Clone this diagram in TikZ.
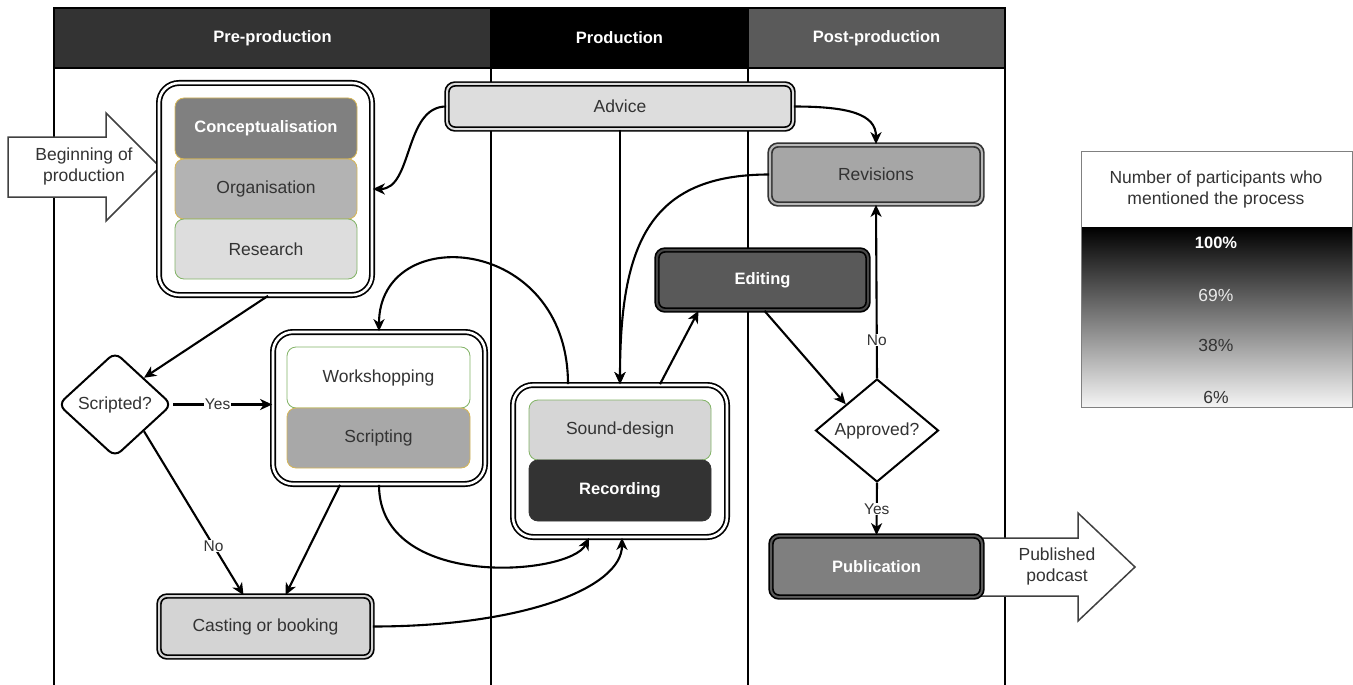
\documentclass[tikz,border=0pt]{standalone}
\usepackage{fontspec}
\setmainfont{Liberation Sans}
\usetikzlibrary{shapes.geometric,arrows.meta,calc}
\definecolor{txt}{HTML}{333333}
\definecolor{hdrpre}{HTML}{333333}
\definecolor{hdrprod}{HTML}{000000}
\definecolor{hdrpost}{HTML}{5A5A5A}
\definecolor{cgold}{HTML}{D6B656}
\definecolor{cgreen}{HTML}{82B366}
\definecolor{fconc}{HTML}{808080}
\definecolor{forg}{HTML}{B3B3B3}
\definecolor{fres}{HTML}{DDDDDD}
\definecolor{fscr}{HTML}{A8A8A8}
\definecolor{fsnd}{HTML}{D6D6D6}
\definecolor{frec}{HTML}{333333}
\definecolor{fadv}{HTML}{DDDDDD}
\definecolor{frev}{HTML}{A6A6A6}
\definecolor{fedit}{HTML}{595959}
\definecolor{fpub}{HTML}{7F7F7F}
\definecolor{fcast}{HTML}{D4D4D4}
\newcommand{\nfont}{\fontsize{17.5}{21}\selectfont}
\newcommand{\bfnt}{\fontsize{16.5}{20}\selectfont\bfseries}
\newcommand{\lfont}{\fontsize{15.5}{18}\selectfont}
\tikzset{
  lane/.style={draw=black, line width=2pt},
  hdr/.style={text=white, font=\bfnt, inner sep=0pt, minimum height=60pt},
  grp/.style={draw=black, line width=1.7pt, double=white, double distance=2.6pt, rounded corners=20pt, inner sep=0pt},
  cell/.style={draw, rounded corners=9pt, line width=0.8pt, inner sep=0pt, minimum width=182pt, minimum height=60pt, font=\nfont, text=txt},
  proc/.style={draw=black, line width=1.7pt, double distance=2pt, rounded corners=8pt, inner sep=0pt, font=\nfont, text=txt},
  dec/.style={draw=black, line width=2pt, shape=diamond, inner sep=0pt, font=\nfont, text=txt, fill=white},
  arr/.style={line width=2.1pt, -{Stealth[length=12pt,width=11pt,inset=3.5pt]}},
  lbl/.style={font=\lfont, text=txt, fill=white, inner sep=1pt},
  blk/.style={draw=black!75, line width=1.5pt, fill=white, line join=miter},
}
\begin{document}
\begin{tikzpicture}[x=1pt,y=-1pt]
\useasboundingbox (0,0) rectangle (1353,685);
% headers
\node[hdr, fill=hdrpre, minimum width=437pt] (hpre) at (272.5,38) {Pre-production};
\node[hdr, fill=hdrprod, minimum width=257pt] (hprod) at (619.5,38) {Production};
\node[hdr, fill=hdrpost, minimum width=257pt] (hpost) at (876.5,38) {Post-production};
% pool frame and lanes
\draw[lane] (54,686) -- (54,8) -- (1005,8) -- (1005,686);
\draw[lane] (54,68) -- (1005,68);
\draw[lane] (491,8) -- (491,686);
\draw[lane] (748,8) -- (748,686);
% block arrows
\draw[blk] (8,137) -- (106,137) -- (106,113) -- (160,167) -- (106,221) -- (106,197) -- (8,197) -- cycle;
\node[font=\nfont, text=txt, align=center, inner sep=0pt] (begin) at (84,166) {Beginning of\\production};
\draw[blk] (960,538) -- (1078,538) -- (1078,513) -- (1135,567) -- (1078,621) -- (1078,596) -- (960,596) -- cycle;
\node[font=\nfont, text=txt, align=center, inner sep=0pt] (podcast) at (1057,566) {Published\\podcast};
% groups
\node[grp, minimum width=213pt, minimum height=212pt] (g1) at (265.5,189) {};
\node[cell, draw=cgold, fill=fconc, text=white, font=\bfnt, minimum height=61pt] (conc) at (266,128.5) {Conceptualisation};
\node[cell, draw=cgold, fill=forg] (org) at (266,189) {Organisation};
\node[cell, draw=cgreen, fill=fres] (res) at (266,249) {Research};
\node[grp, minimum width=212pt, minimum height=152pt] (gws) at (379,408) {};
\node[cell, draw=cgreen, fill=white, minimum width=183pt, minimum height=61pt] (wsh) at (378.5,377.5) {Workshopping};
\node[cell, draw=cgold, fill=fscr, minimum width=183pt] (scr) at (378.5,438) {Scripting};
\node[grp, minimum width=214pt, minimum height=152pt] (gsd) at (620,461) {};
\node[cell, draw=cgreen, fill=fsnd] (snd) at (620,430) {Sound-design};
\node[cell, draw=frec, fill=frec, text=white, font=\bfnt, minimum height=61pt] (rec) at (620,490.5) {Recording};
% processes
\node[proc, fill=fadv, double=fadv, minimum width=346pt, minimum height=45pt] (advice) at (620,106.5) {Advice};
\node[proc, draw=black!80, fill=frev, double=frev!80!white, minimum width=212pt, minimum height=59pt] (rev) at (876,174.5) {Revisions};
\node[proc, fill=fedit, double=fedit!80!black, text=white, font=\bfnt, minimum width=211pt, minimum height=60pt] (edit) at (762.5,280) {Editing};
\node[proc, fill=fpub, double=fpub!70!black, text=white, font=\bfnt, minimum width=211pt, minimum height=61pt] (pub) at (876.5,566.5) {Publication};
\node[proc, fill=fcast, double=fcast, minimum width=213pt, minimum height=61pt] (cast) at (265.5,626.5) {Casting or booking};
% decisions
\node[dec, rounded corners=8pt, minimum width=114pt, minimum height=105pt] (scripted) at (115,404.5) {Scripted?};
\node[dec, minimum width=123pt, minimum height=103pt] (approved) at (877,430.5) {Approved?};
% connectors
\draw[arr] (advice.west) .. controls +(-42,0) and +(40,0) .. (g1.east);
\draw[arr] (advice.east) .. controls +(55,0) and +(0,-30) .. (rev.north);
\draw[arr] (advice.south) -- (gsd.north);
\draw[arr] (rev.west) .. controls +(-120,0) and +(0,-140) .. (gsd.north);
\draw[arr] ([xshift=-52pt]gsd.north) .. controls +(0,-150) and +(0,-110) .. (gws.north);
\draw[arr] ([xshift=40pt]gsd.north) -- ([xshift=-64pt]edit.south);
\draw[arr] ([xshift=2pt]edit.south) -- (approved.north west);
\draw[arr] (approved.north) -- node[lbl, pos=0.22] {No} (rev.south);
\draw[arr] (approved.south) -- node[lbl, pos=0.5] {Yes} (pub.north);
\draw[arr] ([xshift=2.5pt]g1.south) -- (scripted.north east);
\draw[arr] (scripted.east) -- node[lbl, pos=0.45] {Yes} (scripted.east -| gws.west);
\draw[arr] (scripted.south east) -- node[lbl, pos=0.7] {No} ([xshift=-22pt]cast.north);
\draw[arr] ([xshift=-39pt]gws.south) -- ([xshift=20pt]cast.north);
\draw[arr] (gws.south) .. controls +(0,106) and +(-19,38) .. ([xshift=-31pt]gsd.south);
\draw[arr] (cast.east) .. controls +(150,0) and +(0,50) .. ([xshift=2pt]gsd.south);
% legend
\shade[top color=black, bottom color=white!96!black] (1081,227) rectangle (1352,407);
\draw[draw=black!50, line width=1pt] (1081,151) rectangle (1352,407);
\node[font=\nfont, text=txt, align=center, inner sep=0pt] (legt) at (1216,189) {Number of participants who\\mentioned the process};
\node[font=\bfnt, text=white, inner sep=0pt] (l100) at (1216,243) {100\%};
\node[font=\nfont, text=white!92!black, inner sep=0pt] (l69) at (1216,295) {69\%};
\node[font=\nfont, text=txt, inner sep=0pt] (l38) at (1216,345) {38\%};
\node[font=\nfont, text=txt, inner sep=0pt] (l6) at (1216,397) {6\%};
\end{tikzpicture}
\end{document}
